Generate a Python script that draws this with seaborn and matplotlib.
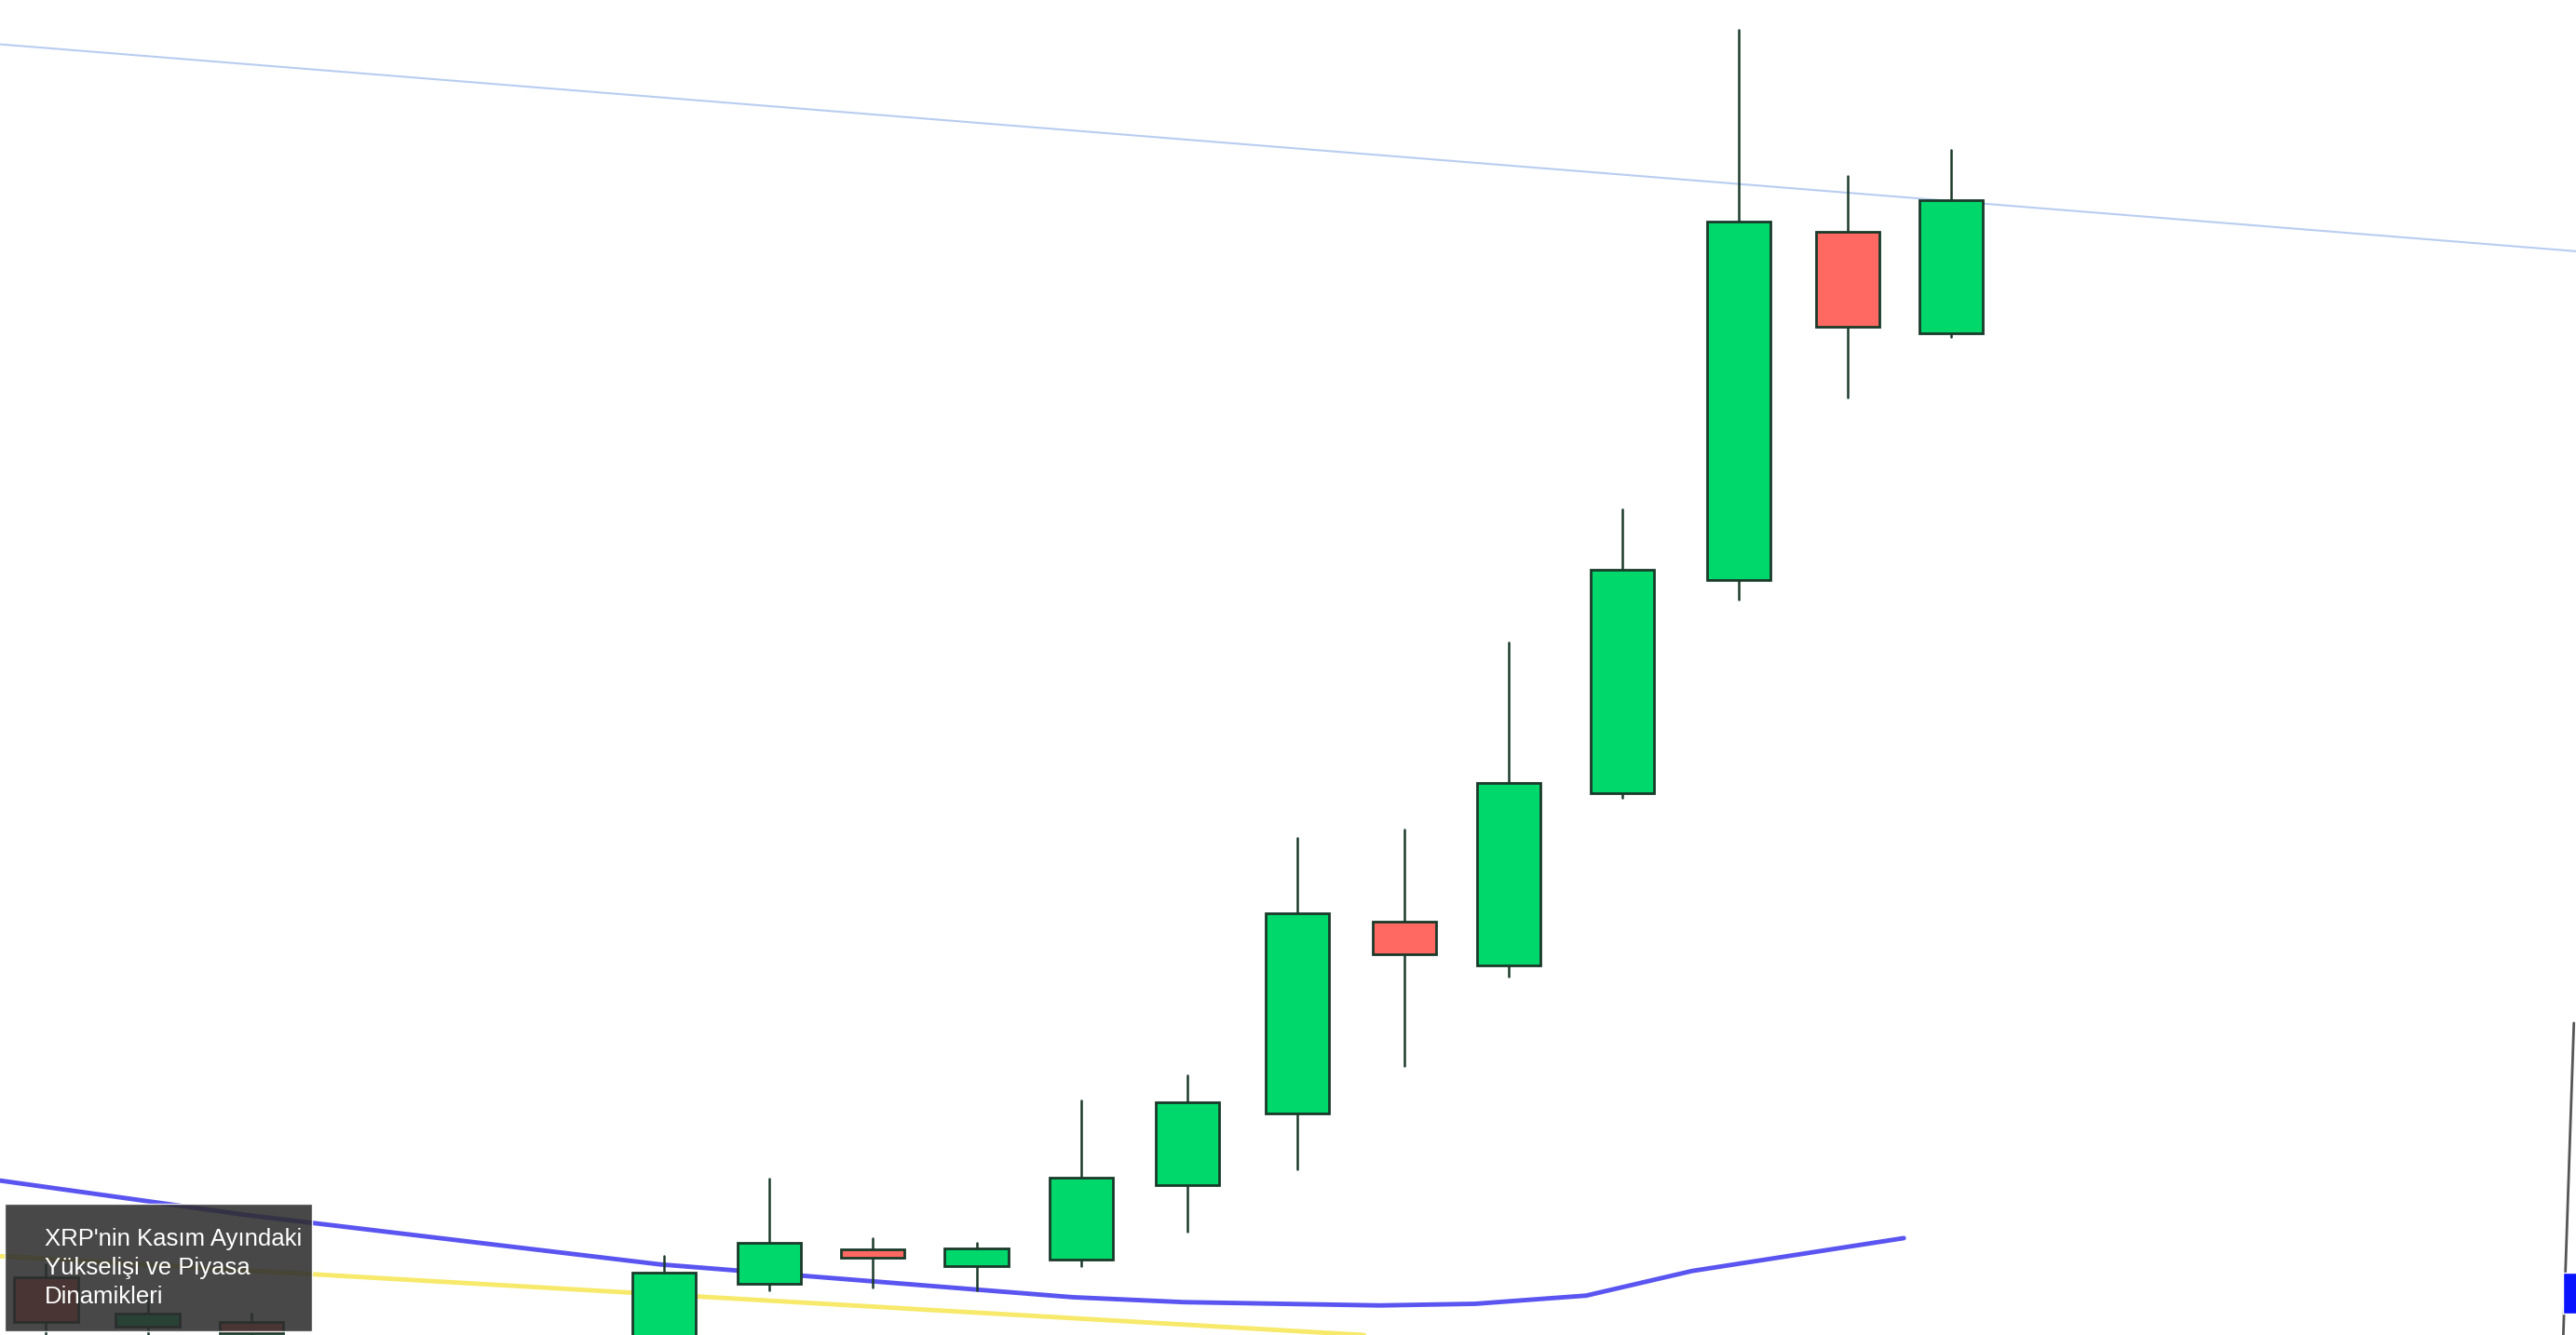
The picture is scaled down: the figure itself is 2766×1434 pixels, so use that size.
import matplotlib
matplotlib.use("Agg")
import matplotlib.pyplot as plt
import seaborn as sns
import pandas as pd
import numpy as np
from matplotlib.patches import Rectangle

sns.set_theme(style="white")
plt.rcParams['font.family'] = ['Liberation Sans', 'DejaVu Sans']

# candle data (arbitrary price units)
idx   = [0, 0.96, 1.94, 5.84, 6.83, 7.81, 8.79, 9.78, 10.78, 11.82, 12.83, 13.82, 14.89, 15.99, 17.02, 18]
opens = [35, 5, 8, -5, 31, 52, 42, 46, 91, 135, 252, 225, 330, 460, 672, 610]
highs = [43, 23, 13, 48, 95, 59, 56, 143, 158, 303, 308, 422, 503, 795, 706, 722]
lows  = [-5, -2, -2, -10, 27, 29, 27, 42, 63, 101, 164, 218, 327, 448, 571, 608]
closes= [8, 13, 1, 38, 56, 47, 53, 96, 142, 257, 232, 336, 466, 678, 614, 691]

# moving average lines
ma_x = [-0.43, 1.9, 5.8, 9.7, 10.75, 12.6, 13.5, 14.55, 15.55, 17.55]
ma_y = [94, 73, 43, 23, 20, 18, 19, 24, 39, 59]
ma2_x = [-0.43, 12.45]
ma2_y = [48, 0]
trend_x = [-0.43, 23.9]
trend_y = [786, 660]

title = "XRP'nin Kasım Ayındaki\nYükselişi ve Piyasa\nDinamikleri"

fig = plt.figure(figsize=(27.66, 14.34), dpi=100)
ax = fig.add_axes([0, 0, 1, 1])
ax.set_xlim(-0.435, 23.9)
ax.set_ylim(0, 813)
ax.axis('off')

sns.lineplot(x=trend_x, y=trend_y, ax=ax, color='#b8cdf0', lw=1.5)
sns.lineplot(x=ma2_x, y=ma2_y, ax=ax, color='#f7e96a', lw=3.5)
sns.lineplot(x=ma_x, y=ma_y, ax=ax, color='#5a55f0', lw=3.5)

w = 0.6
for i, o, h, l, c in zip(idx, opens, highs, lows, closes):
    col = '#00d86c' if c >= o else '#ff6961'
    ax.plot([i, i], [l, h], color='#1a3a2a', lw=1.8, zorder=2)
    ax.add_patch(Rectangle((i - w/2, min(o, c)), w, abs(c - o), facecolor=col,
                           edgecolor='#1a3a2a', lw=2, zorder=3))

# right edge axis fragment
ax.plot([23.88, 23.78], [190, 0], color='#555555', lw=2, zorder=4)
ax.add_patch(Rectangle((23.78, 13), 0.2, 25, facecolor='#0a14ff', zorder=5))

# title box
fig.patches.append(Rectangle((3/1568, 2/813), 187/1568, 78/813, transform=fig.transFigure,
                             facecolor='#2e2e2e', alpha=0.88, zorder=10))
fig.text(27/1568, 1 - 748/813, title, color='white', fontsize=18.5, va='top', ha='left',
         linespacing=1.35, zorder=11)

fig.savefig('out.png', dpi=100)
